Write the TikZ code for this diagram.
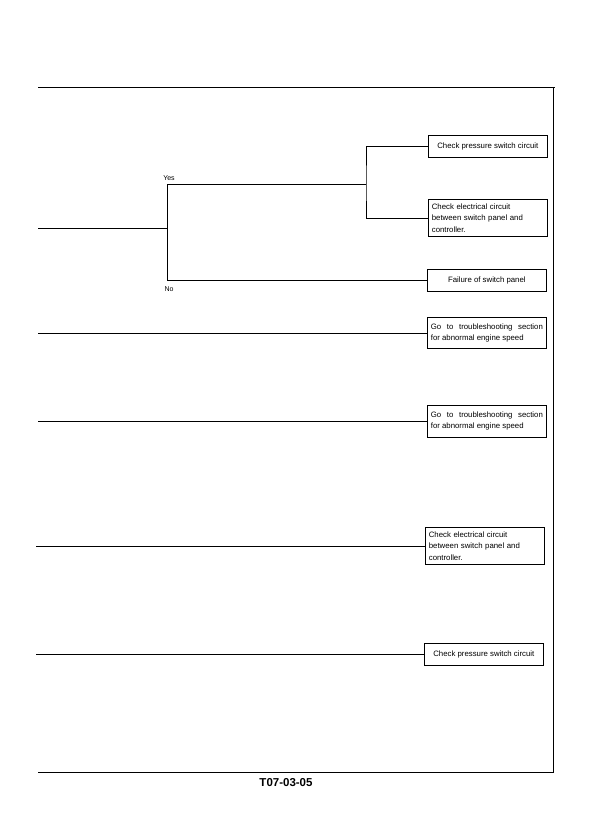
\documentclass[tikz,border=0pt]{standalone}
\usepackage{fontspec}
\setmainfont{Liberation Sans}
\usepackage{tikz}
\usetikzlibrary{positioning}

\begin{document}
\begin{tikzpicture}[
    x=1pt, y=-1pt,
    line width=0.7pt,
    outcome/.style={draw, rectangle, anchor=west, minimum width=119pt, inner sep=3.5pt, font=\fontsize{7.8}{11.5}\selectfont},
    para/.style={outcome, text width=112pt, align=left},
    spread/.style={outcome, text width=112pt, align=justify},
    answer/.style={font=\fontsize{7}{8}\selectfont, inner sep=0pt}
]
    \useasboundingbox (0,0) rectangle (591,838);

    % page frame
    \coordinate (tl) at (38,87);
    \coordinate (tr) at (555,87);
    \coordinate (br) at (553,772);
    \coordinate (bl) at (38,772);
    \draw (tl) -- (tr);
    \draw (br |- tr) -- (br) -- (bl);

    % result boxes
    \node [outcome, minimum height=22pt] (r1) at (428,146) {Check pressure switch circuit};
    \node [para, minimum height=37pt] (r2) at (428,218) {Check electrical circuit\\between switch panel and\\controller.};
    \node [outcome, minimum height=22pt] (r3) at (427,280) {Failure of switch panel};
    \node [spread, minimum height=31pt] (r4) at (427,333) {Go to troubleshooting section\break for abnormal engine speed};
    \node [spread, minimum height=32pt] (r5) at (427,421) {Go to troubleshooting section\break for abnormal engine speed};
    \node [para, minimum height=37pt] (r6) at (425,546) {Check electrical circuit\\between switch panel and\\controller.};
    \node [outcome, minimum height=22pt] (r7) at (424,654) {Check pressure switch circuit};

    % branch points and free ends
    \coordinate (yes) at (167,184);
    \coordinate (split) at (366,184);
    \coordinate (in1) at (38,228);
    \coordinate (in2) at (38,333);
    \coordinate (in3) at (38,421);
    \coordinate (in4) at (36,546);
    \coordinate (in5) at (36,654);

    \node [answer] (ylab) at (169,178) {Yes};
    \node [answer] (nlab) at (169,289) {No};

    \draw (in1) -- (in1 -| yes);
    \draw (r3.west) -| (yes) -- (split);
    \draw (r1.west) -| (split) |- (r2.west);
    \draw (in2) -- (r4.west);
    \draw (in3) -- (r5.west);
    \draw (in4) -- (r6.west);
    \draw (in5) -- (r7.west);

    \node [font=\fontsize{11.5}{13}\selectfont\bfseries] (code) at (286,783) {T07-03-05};
\end{tikzpicture}
\end{document}
